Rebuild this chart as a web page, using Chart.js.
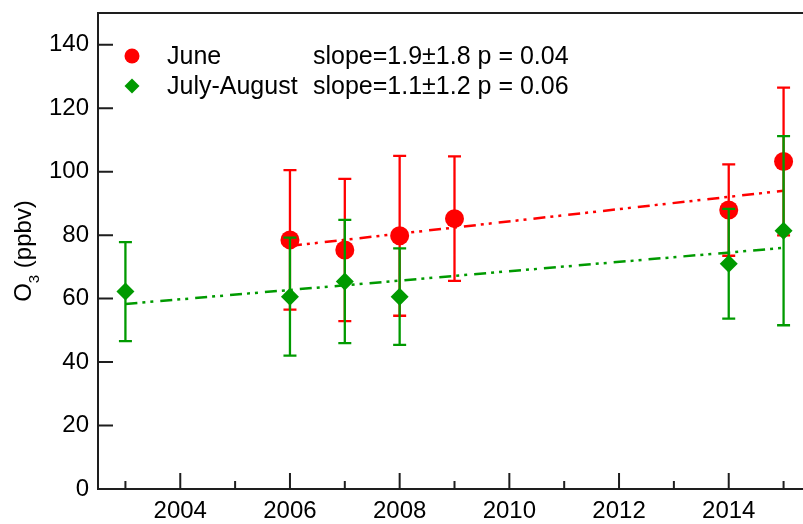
<!DOCTYPE html>
<html>
<head>
<meta charset="utf-8">
<script src="https://cdn.jsdelivr.net/npm/chart.js@4.4.1/dist/chart.umd.min.js"></script>
<style>
  html, body { margin: 0; padding: 0; background: #fff; overflow: hidden; }
  canvas { display: block; }
</style>
</head>
<body>
<canvas id="o3Chart" width="815" height="524"></canvas>
<script>
// June monthly means with 1-sigma spread
const juneYears = [2006, 2007, 2008, 2009, 2014, 2015];
const juneO3 = [78.5, 75.3, 79.8, 85.2, 87.9, 103.2];
const juneErr = [22, 22.4, 25.2, 19.6, 14.4, 23.3];

// July-August means
const julAugYears = [2003, 2006, 2007, 2008, 2014, 2015];
const julAugO3 = [62.2, 60.6, 65.4, 60.6, 71, 81.4];
const julAugErr = [15.6, 18.6, 19.4, 15.2, 17.3, 29.8];

// linear fits (end points)
const juneFitYears = [2006, 2015];
const juneFit = [76.6, 94];
const julAugFitYears = [2003, 2015];
const julAugFit = [58.3, 76];

const xTicks = [2003, 2004, 2005, 2006, 2007, 2008, 2009, 2010, 2011, 2012, 2013, 2014, 2015];
const yTicks = [0, 20, 40, 60, 80, 100, 120, 140];

const legendNames = ['June', 'July-August'];
const legendStats = ['slope=1.9\u00b11.8 p = 0.04', 'slope=1.1\u00b11.2 p = 0.06'];

const RED = '#ff0000';
const GREEN = '#009a00';
const AXIS = '#1e1e1e';
const FONT = '"Liberation Sans", Arial, sans-serif';

const pts = (xs, ys) => xs.map((x, i) => ({ x: x, y: ys[i] }));

// error bars, drawn just before each point dataset
const errorBars = {
  id: 'errorBars',
  beforeDatasetDraw(chart, args) {
    const ds = chart.data.datasets[args.index];
    if (!ds.errors) return;
    const ctx = chart.ctx;
    const y = chart.scales.y;
    ctx.save();
    ctx.strokeStyle = ds.borderColor;
    ctx.lineWidth = 2.3;
    ctx.beginPath();
    args.meta.data.forEach((el, i) => {
      const v = ds.data[i].y;
      const top = y.getPixelForValue(v + ds.errors[i]);
      const bot = y.getPixelForValue(v - ds.errors[i]);
      ctx.moveTo(el.x, top); ctx.lineTo(el.x, bot);
      ctx.moveTo(el.x - 6.5, top); ctx.lineTo(el.x + 6.5, top);
      ctx.moveTo(el.x - 6.5, bot); ctx.lineTo(el.x + 6.5, bot);
    });
    ctx.stroke();
    ctx.restore();
  }
};

// frame, inward ticks, legend and y title
const decor = {
  id: 'decor',
  afterDraw(chart) {
    const { ctx, chartArea: a, scales: { x, y } } = chart;
    ctx.save();
    ctx.strokeStyle = AXIS;
    ctx.lineWidth = 2;
    ctx.beginPath();
    ctx.moveTo(a.left, a.top); ctx.lineTo(a.right, a.top); ctx.lineTo(a.right, a.bottom);
    x.ticks.forEach(t => {
      const px = x.getPixelForValue(t.value);
      const len = t.value % 2 === 0 ? 16 : 8;
      ctx.moveTo(px, a.bottom); ctx.lineTo(px, a.bottom - len);
    });
    y.ticks.forEach(t => {
      const py = y.getPixelForValue(t.value);
      ctx.moveTo(a.left, py); ctx.lineTo(a.left + 15, py);
    });
    ctx.stroke();

    // legend
    ctx.font = '25px ' + FONT;
    ctx.textBaseline = 'middle';
    ctx.textAlign = 'left';
    const rows = [56, 86];
    const mx = a.left + 34;
    ctx.fillStyle = RED;
    ctx.beginPath(); ctx.arc(mx, rows[0], 7.5, 0, Math.PI * 2); ctx.fill();
    ctx.fillStyle = GREEN;
    ctx.beginPath();
    ctx.moveTo(mx - 7.5, rows[1]); ctx.lineTo(mx, rows[1] - 7.5);
    ctx.lineTo(mx + 7.5, rows[1]); ctx.lineTo(mx, rows[1] + 7.5);
    ctx.closePath(); ctx.fill();
    ctx.fillStyle = '#000';
    legendNames.forEach((n, i) => {
      ctx.fillText(n, a.left + 69, rows[i] + 1);
      ctx.fillText(legendStats[i], a.left + 215, rows[i] + 1);
    });

    // y axis title: O3 (ppbv), rotated
    ctx.translate(31, (a.top + a.bottom) / 2);
    ctx.rotate(-Math.PI / 2);
    ctx.textBaseline = 'alphabetic';
    const big = '24px ' + FONT, small = '15px ' + FONT;
    ctx.font = big;
    const wO = ctx.measureText('O').width;
    const wRest = ctx.measureText(' (ppbv)').width;
    ctx.font = small;
    const w3 = ctx.measureText('3').width;
    const sx = -(wO + w3 + wRest) / 2;
    ctx.font = big;
    ctx.fillText('O', sx, 0);
    ctx.font = small;
    ctx.fillText('3', sx + wO, 8);
    ctx.font = big;
    ctx.fillText(' (ppbv)', sx + wO + w3, 0);
    ctx.restore();
  }
};

new Chart(document.getElementById('o3Chart'), {
  type: 'scatter',
  data: {
    datasets: [
      {
        label: 'June',
        data: pts(juneYears, juneO3),
        errors: juneErr,
        backgroundColor: RED,
        borderColor: RED,
        pointStyle: 'circle',
        pointRadius: 9.5,
        pointBorderWidth: 0,
        order: 4
      },
      {
        type: 'line',
        label: 'June fit',
        data: pts(juneFitYears, juneFit),
        borderColor: RED,
        borderWidth: 2.5,
        borderDash: [12, 5, 3, 5, 3, 7],
        pointRadius: 0,
        fill: false,
        order: 3
      },
      {
        label: 'July-August',
        data: pts(julAugYears, julAugO3),
        errors: julAugErr,
        backgroundColor: GREEN,
        borderColor: GREEN,
        pointStyle: 'rectRot',
        pointRadius: 9,
        pointBorderWidth: 0,
        order: 2
      },
      {
        type: 'line',
        label: 'July-August fit',
        data: pts(julAugFitYears, julAugFit),
        borderColor: GREEN,
        borderWidth: 2.5,
        borderDash: [12, 5, 3, 5, 3, 7],
        pointRadius: 0,
        fill: false,
        order: 1
      }
    ]
  },
  options: {
    responsive: false,
    animation: false,
    layout: { autoPadding: false, padding: { top: 13, right: 4, left: 0, bottom: 0 } },
    plugins: { legend: { display: false }, tooltip: { enabled: false } },
    scales: {
      x: {
        type: 'linear',
        min: 2002.5,
        max: 2015.5,
        afterBuildTicks: s => { s.ticks = xTicks.map(v => ({ value: v })); },
        afterFit: s => { s.height = 35; s.paddingLeft = 0; s.paddingRight = 0; },
        ticks: {
          callback: v => (v % 2 === 0 ? String(v) : ''),
          font: { family: FONT, size: 24 },
          color: '#000',
          padding: 8,
          maxRotation: 0,
          autoSkip: false
        },
        grid: { display: false, drawTicks: false },
        border: { display: true, color: AXIS, width: 2 }
      },
      y: {
        min: 0,
        max: 150,
        afterBuildTicks: s => { s.ticks = yTicks.map(v => ({ value: v })); },
        afterFit: s => { s.width = 98; s.paddingTop = 0; s.paddingBottom = 0; },
        ticks: {
          font: { family: FONT, size: 24 },
          color: '#000',
          padding: 9
        },
        grid: { display: false, drawTicks: false },
        border: { display: true, color: AXIS, width: 2 }
      }
    }
  },
  plugins: [errorBars, decor]
});
</script>
</body>
</html>
